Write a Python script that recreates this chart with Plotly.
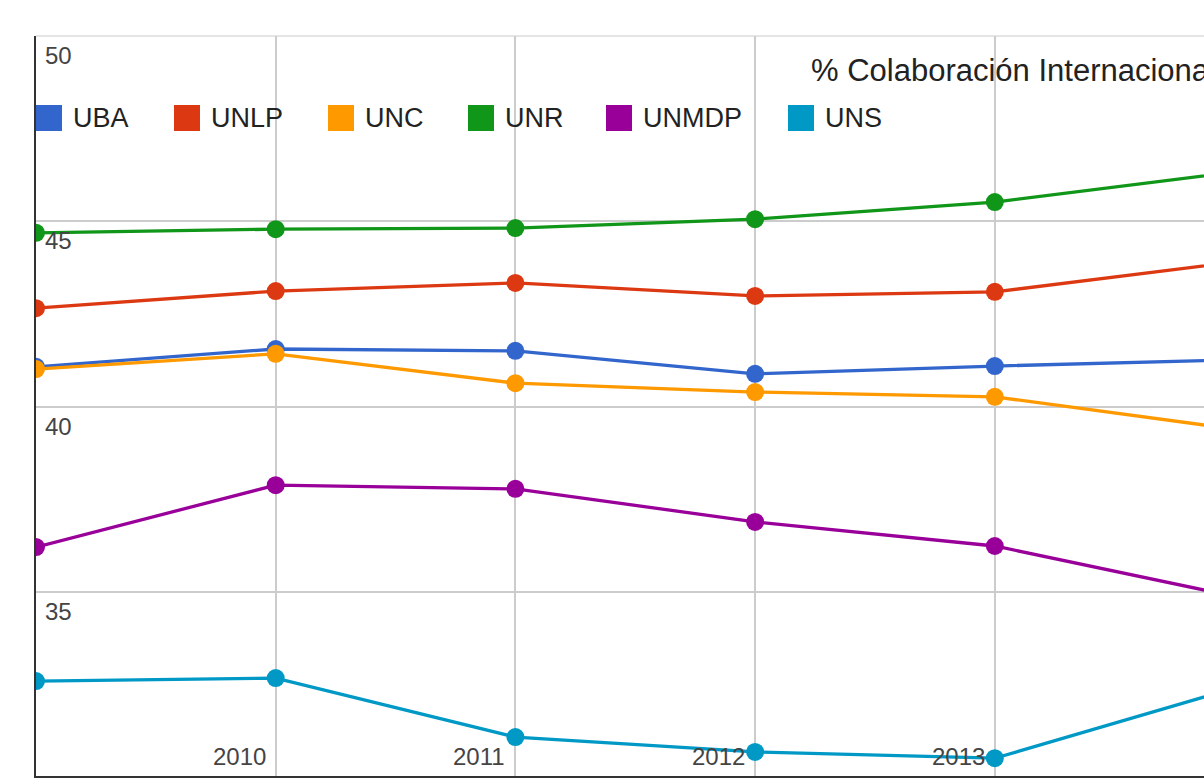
import plotly.graph_objects as go

# ---------------- data ----------------
years = [2009, 2010, 2011, 2012, 2013, 2014]
series_names = ["UBA", "UNLP", "UNC", "UNR", "UNMDP", "UNS"]
uba   = [41.07, 41.55, 41.50, 40.88, 41.09, 41.26]
unlp  = [42.65, 43.11, 43.33, 42.98, 43.09, 43.89]
unc   = [41.01, 41.42, 40.63, 40.39, 40.26, 39.39]
unr   = [44.68, 44.78, 44.81, 45.05, 45.51, 46.32]
unmdp = [36.21, 37.88, 37.78, 36.89, 36.24, 34.88]
uns   = [32.60, 32.68, 31.09, 30.69, 30.52, 32.41]
series_values = [uba, unlp, unc, unr, unmdp, uns]
colors = ["#3366cc", "#dc3912", "#ff9900", "#109618", "#990099", "#0099c6"]

title_text = "% Colaboración Internacional"
x_tick_vals = [2010, 2011, 2012, 2013]
x_tick_labels = ["2010", "2011", "2012", "2013"]
y_tick_vals = [35, 40, 45, 50]
y_tick_labels = ["35", "40", "45", "50"]

# ---------------- layout constants (window pixels) ----------------
OFF = 0                      # body margin removed via post_script
WIN_W, WIN_H = 1204, 778
W, H = WIN_W - OFF, WIN_H - OFF
PLOT_L, PLOT_T, PLOT_B = 36, 35.5, 775.5
X_MIN = 2009
PX_PER_YEAR = 239.7
X_MAX = X_MIN + (WIN_W - PLOT_L) / PX_PER_YEAR
Y_MAX = 50.0
Y_MIN = Y_MAX - (PLOT_B - PLOT_T) / 37.1

legend_square_px = [36, 174, 328, 468, 606, 788]
LEGEND_CY = 118
FONT = "Liberation Sans, Arial, sans-serif"


def px(x):
    return (x - OFF) / W


def py(y):
    return 1 - (y - OFF) / H


fig = go.Figure()
for name, vals, col in zip(series_names, series_values, colors):
    fig.add_trace(go.Scatter(
        x=years, y=vals, name=name, mode="lines+markers",
        line=dict(color=col, width=3.3),
        marker=dict(color=col, size=18),
        showlegend=False,
    ))

annotations = []
shapes = []

# y tick labels (inside, below gridline)
for v, t in zip(y_tick_vals, y_tick_labels):
    annotations.append(dict(
        text=t, x=px(43), xref="paper", y=v, yref="y",
        xanchor="left", yanchor="middle", yshift=-19.5, showarrow=False,
        font=dict(family=FONT, size=24, color="#444444"),
    ))

# x tick labels (inside, left of gridline)
for v, t in zip(x_tick_vals, x_tick_labels):
    annotations.append(dict(
        text=t, x=v, xref="x", y=py(756), yref="paper",
        xanchor="right", yanchor="middle", xshift=-8, showarrow=False,
        font=dict(family=FONT, size=24, color="#444444"),
    ))

# title
annotations.append(dict(
    text=title_text, x=px(809), xref="paper", y=py(71), yref="paper",
    xanchor="left", yanchor="middle", showarrow=False,
    font=dict(family=FONT, size=31, color="#222222"),
))

# legend
for name, col, sx in zip(series_names, colors, legend_square_px):
    shapes.append(dict(
        type="rect", xref="paper", yref="paper",
        x0=px(sx), x1=px(sx + 26), y0=py(LEGEND_CY + 13), y1=py(LEGEND_CY - 13),
        fillcolor=col, line=dict(width=0), layer="above",
    ))
    annotations.append(dict(
        text=name, x=px(sx + 35), xref="paper", y=py(LEGEND_CY), yref="paper",
        xanchor="left", yanchor="middle", showarrow=False,
        font=dict(family=FONT, size=27, color="#222222"),
    ))

# top border of plot area
shapes.append(dict(
    type="line", xref="paper", yref="y", x0=px(PLOT_L), x1=1, y0=Y_MAX, y1=Y_MAX,
    line=dict(color="#cccccc", width=2), layer="below",
))

fig.update_layout(
    width=W, height=H, autosize=False,
    margin=dict(l=0, r=0, t=0, b=0, pad=0),
    paper_bgcolor="white", plot_bgcolor="white",
    showlegend=False,
    xaxis=dict(
        domain=[px(PLOT_L), 1], range=[X_MIN, X_MAX],
        tickvals=x_tick_vals, showticklabels=False, ticks="",
        showgrid=True, gridcolor="#cccccc", gridwidth=2,
        zeroline=False, showline=True, linecolor="#333333", linewidth=2,
        fixedrange=True,
    ),
    yaxis=dict(
        domain=[py(PLOT_B), py(PLOT_T)], range=[Y_MIN, Y_MAX],
        tickvals=y_tick_vals, showticklabels=False, ticks="",
        showgrid=True, gridcolor="#cccccc", gridwidth=2,
        zeroline=False, showline=True, linecolor="#333333", linewidth=2,
        fixedrange=True,
    ),
    annotations=annotations,
    shapes=shapes,
    hovermode="closest",
)

fig.write_html(
    "out.html", include_plotlyjs=True, config={"displayModeBar": False},
    post_script="document.body.style.margin='0';document.body.style.overflow='hidden';",
)
